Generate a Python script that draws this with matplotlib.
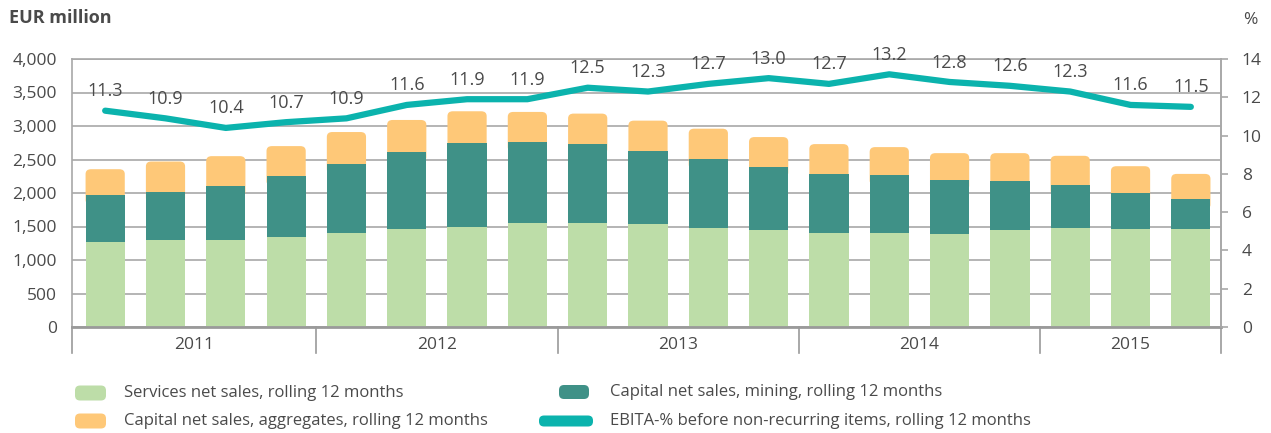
import numpy as np
import matplotlib as mpl
mpl.use('Agg')
import matplotlib.pyplot as plt
from matplotlib.patches import FancyBboxPatch

plt.rcParams['font.family'] = ['Open Sans', 'DejaVu Sans']

# data (EUR million, rolling 12 months, quarterly 2011 Q1 .. 2015 Q3)
services = [1265, 1295, 1295, 1350, 1400, 1460, 1500, 1550, 1550, 1530,
            1485, 1445, 1410, 1410, 1395, 1455, 1485, 1470, 1470]
mining_top = [1975, 2010, 2100, 2255, 2435, 2615, 2750, 2765, 2735, 2625,
              2505, 2385, 2280, 2265, 2190, 2175, 2115, 1995, 1905]
total_top = [2355, 2470, 2550, 2700, 2910, 3090, 3220, 3210, 3185, 3080,
             2960, 2835, 2730, 2685, 2595, 2595, 2555, 2400, 2285]
ebita = [11.3, 10.9, 10.4, 10.7, 10.9, 11.6, 11.9, 11.9, 12.5, 12.3,
         12.7, 13.0, 12.7, 13.2, 12.8, 12.6, 12.3, 11.6, 11.5]
years = ['2011', '2012', '2013', '2014', '2015']
quarters_per_year = [4, 4, 4, 4, 3]

services = np.array(services)
mining = np.array(mining_top) - services
aggregates = np.array(total_top) - np.array(mining_top)
x = np.arange(len(services))

c_serv = '#bddda8'
c_mining = '#3f9187'
c_aggr = '#fec878'
c_line = '#0bb3ad'
c_text = '#4a4a4a'
c_grid = '#a8a8a8'

fig = plt.figure(figsize=(12.71, 4.33), dpi=100)
ax = fig.add_axes([72/1271, 1-327/433, (1221-72)/1271, (327-59)/433])

w = 0.65
ax.bar(x, services, w, color=c_serv, zorder=2)
ax.bar(x, mining, w, bottom=services, color=c_mining, zorder=2)
# aggregates: rounded top, lower part tucked under the mining segment
for xi, b, h in zip(x, services + mining, aggregates):
    p = FancyBboxPatch((xi - w/2, b - 150), w, h + 150,
                       boxstyle='round,pad=0,rounding_size=0.09', mutation_aspect=800,
                       facecolor=c_aggr, edgecolor='none', zorder=1.9)
    ax.add_patch(p)

ax.set_xlim(-0.55, len(x) - 0.5)
ax.set_ylim(0, 4000)
ax.set_yticks(np.arange(0, 4001, 500))
ax.set_yticklabels([f'{v:,}' for v in range(0, 4001, 500)])
ax.yaxis.grid(True, color=c_grid, lw=1.2, zorder=0)
ax.set_axisbelow(True)
ax.set_xticks([])
ax.tick_params(axis='y', length=0, pad=11, labelsize=12.5, labelcolor=c_text)
for s in ['left', 'right', 'top']:
    ax.spines[s].set_color(c_grid)
    ax.spines[s].set_linewidth(1.2)
ax.spines['bottom'].set_color('#9a9a9a')
ax.spines['bottom'].set_linewidth(2)

# year category band
tr = mpl.transforms.blended_transform_factory(ax.transData, ax.transAxes)
bounds = np.concatenate([[-0.55], np.cumsum(quarters_per_year) - 0.5])
bounds[-1] = len(x) - 0.5
for b in bounds:
    ax.plot([b, b], [0, -0.097], transform=tr, color='#9a9a9a', lw=1.2, clip_on=False)
for i, yr in enumerate(years):
    ax.text((bounds[i] + bounds[i+1]) / 2, -0.067, yr, transform=tr, ha='center', va='center',
            fontsize=12.5, color=c_text)

# EBITA line on secondary axis
ax2 = ax.twinx()
ax2.plot(x, ebita, color=c_line, lw=4.5, solid_capstyle='round', solid_joinstyle='round', zorder=3)
ax2.set_ylim(0, 14)
ax2.set_yticks(np.arange(0, 15, 2))
ax2.tick_params(axis='y', direction='out', length=5, width=1.2, color=c_grid, pad=10,
                labelsize=12.5, labelcolor=c_text)
for s in ['left', 'right', 'top', 'bottom']:
    ax2.spines[s].set_visible(False)
ax2.spines['right'].set_visible(True)
ax2.spines['right'].set_color(c_grid)
ax2.spines['right'].set_linewidth(1.2)
for xi, v in zip(x, ebita):
    ax2.annotate(f'{v:.1f}', (xi, v), xytext=(0, 14), textcoords='offset points',
                 ha='center', va='center', fontsize=13, color=c_text)

fig.text(9/1271, 1-18/433, 'EUR million', fontsize=13, fontweight='bold', color=c_text,
         ha='left', va='center')
fig.text(1243/1271, 1-20/433, '%', fontsize=12.5, color=c_text, ha='left', va='center')

# legend
def box(x0, x1, yc, h, color):
    p = FancyBboxPatch((x0/100, (433-yc-h/2)/100), (x1-x0)/100, h/100,
                       boxstyle='round,pad=0,rounding_size=0.05', transform=fig.dpi_scale_trans,
                       facecolor=color, edgecolor='none')
    fig.patches.append(p)

box(75, 106, 393, 15, c_serv)
box(75, 106, 421, 15, c_aggr)
box(559, 589, 392, 14, c_mining)
box(539, 593, 421, 11, c_line)
leg_items = [(124, 393, 'Services net sales, rolling 12 months'),
             (124, 421, 'Capital net sales, aggregates, rolling 12 months'),
             (610, 392, 'Capital net sales, mining, rolling 12 months'),
             (610, 421, 'EBITA-% before non-recurring items, rolling 12 months')]
for lx, ly, t in leg_items:
    fig.text(lx/1271, 1-ly/433, t, fontsize=12, color=c_text, ha='left', va='center')

fig.savefig('out.png', dpi=100)
